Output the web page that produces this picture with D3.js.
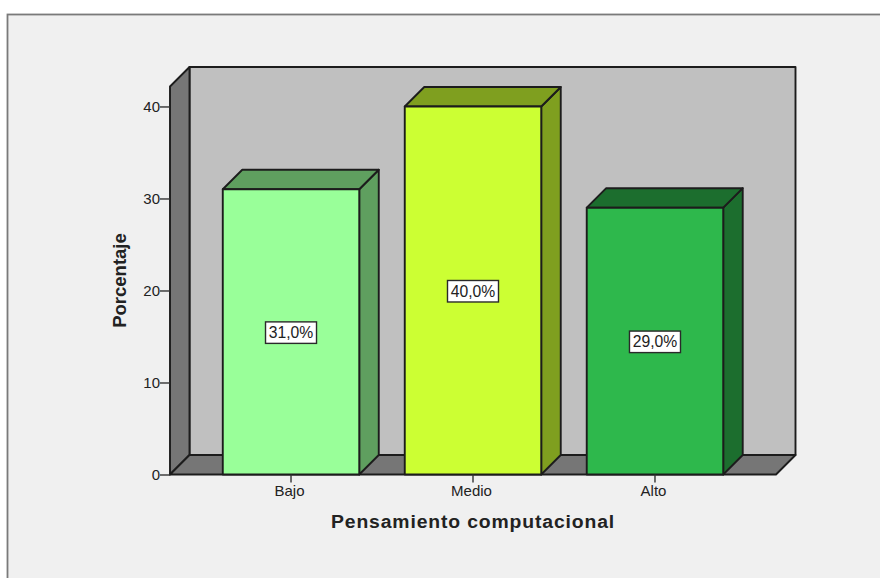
<!DOCTYPE html>
<html>
<head>
<meta charset="utf-8">
<script src="https://cdnjs.cloudflare.com/ajax/libs/d3/7.9.0/d3.min.js"></script>
<style>
  html, body { margin: 0; padding: 0; background: #fff; }
  svg { display: block; }
  text { font-family: "Liberation Sans", Arial, sans-serif; fill: #222; }
</style>
</head>
<body>
<svg id="chart" width="880" height="578"></svg>
<script>
const categories = ["Bajo", "Medio", "Alto"];
const percentages = [31.0, 40.0, 29.0];
const valueLabels = ["31,0%", "40,0%", "29,0%"];
const frontColors = ["#99ff99", "#ccff33", "#2eb84c"];
const shadeColors = ["#5f9f5f", "#7f9f1f", "#1c6e2e"];
const yTicks = [0, 10, 20, 30, 40];
const xTitle = "Pensamiento computacional";
const yTitle = "Porcentaje";

const svg = d3.select("#chart");
const ink = "#1c1c1c";

// Oblique offset of the box's back plane
const depth = 19.5;

const x = d3.scaleBand()
  .domain(categories)
  .range([170, 776])
  .paddingInner(0.25)
  .paddingOuter(0.29);

const y = d3.scaleLinear().domain([0, 42.17]).range([474.5, 86.5]);

const poly = (pts, fill) => svg.append("polygon")
  .attr("points", pts.map(p => p.join(",")).join(" "))
  .attr("fill", fill)
  .attr("stroke", ink)
  .attr("stroke-width", 1.9)
  .attr("stroke-linejoin", "round");

// Panel background and its frame
svg.append("rect").attr("x", 7.5).attr("y", 14.5).attr("width", 880).attr("height", 580)
  .attr("fill", "#f0f0f0").attr("stroke", "#7a7a7a").attr("stroke-width", 1.8);

const [x0, x1] = x.range();
const yBase = y(0);
const yTop = y.range()[1];

// Back wall, side wall, floor
poly([[x0 + depth, yTop - depth], [x1 + depth, yTop - depth], [x1 + depth, yBase - depth], [x0 + depth, yBase - depth]], "#c0c0c0");
poly([[x0, yTop], [x0 + depth, yTop - depth], [x0 + depth, yBase - depth], [x0, yBase]], "#767676");
poly([[x0, yBase], [x0 + depth, yBase - depth], [x1 + depth, yBase - depth], [x1, yBase]], "#767676");

// Bars: side and top faces first, then the front
categories.forEach((c, i) => {
  const l = x(c), r = l + x.bandwidth(), t = y(percentages[i]);
  poly([[r, t], [r + depth, t - depth], [r + depth, yBase - depth], [r, yBase]], shadeColors[i]);
  poly([[l, t], [l + depth, t - depth], [r + depth, t - depth], [r, t]], shadeColors[i]);
  poly([[l, t], [r, t], [r, yBase], [l, yBase]], frontColors[i]);
});

// Axes
const yAxis = d3.axisLeft(y).tickValues(yTicks).tickSize(10).tickPadding(0);
const yg = svg.append("g").attr("transform", `translate(${x0},0)`).call(yAxis);
yg.select(".domain").remove();
const xAxis = d3.axisBottom(x).tickSize(8).tickPadding(3);
const xg = svg.append("g").attr("transform", `translate(0,${yBase})`).call(xAxis);
xg.select(".domain").remove();
svg.selectAll(".tick line").attr("stroke", "#333").attr("stroke-width", 1.4);
svg.selectAll(".tick text").attr("font-size", 15).attr("fill", "#333")
  .attr("font-family", '"Liberation Sans", Arial, sans-serif');
xg.selectAll(".tick text").attr("dx", -1.5);

// Axis titles: the horizontal one is set wide and stretched to its full run
svg.append("text").attr("x", 473).attr("y", 528).attr("text-anchor", "middle")
  .attr("font-size", 18).attr("font-weight", "bold").attr("letter-spacing", 0.8)
  .attr("textLength", 284).attr("lengthAdjust", "spacingAndGlyphs")
  .attr("fill", "#111").text(xTitle);
svg.append("text").attr("transform", "translate(126,280.5) rotate(-90)").attr("text-anchor", "middle")
  .attr("font-size", 18.5).attr("font-weight", "bold").attr("fill", "#111").text(yTitle);

// Value labels centred on each bar's front face
categories.forEach((c, i) => {
  const cx = x(c) + x.bandwidth() / 2, cy = y(percentages[i] / 2);
  svg.append("rect").attr("x", cx - 25.5).attr("y", cy - 10).attr("width", 51).attr("height", 21.5)
    .attr("fill", "#fff").attr("stroke", "#2a2a2a").attr("stroke-width", 1.4);
  svg.append("text").attr("x", cx).attr("y", cy + 6.3).attr("text-anchor", "middle")
    .attr("font-size", 15.7).attr("fill", "#333").text(valueLabels[i]);
});
</script>
</body>
</html>
